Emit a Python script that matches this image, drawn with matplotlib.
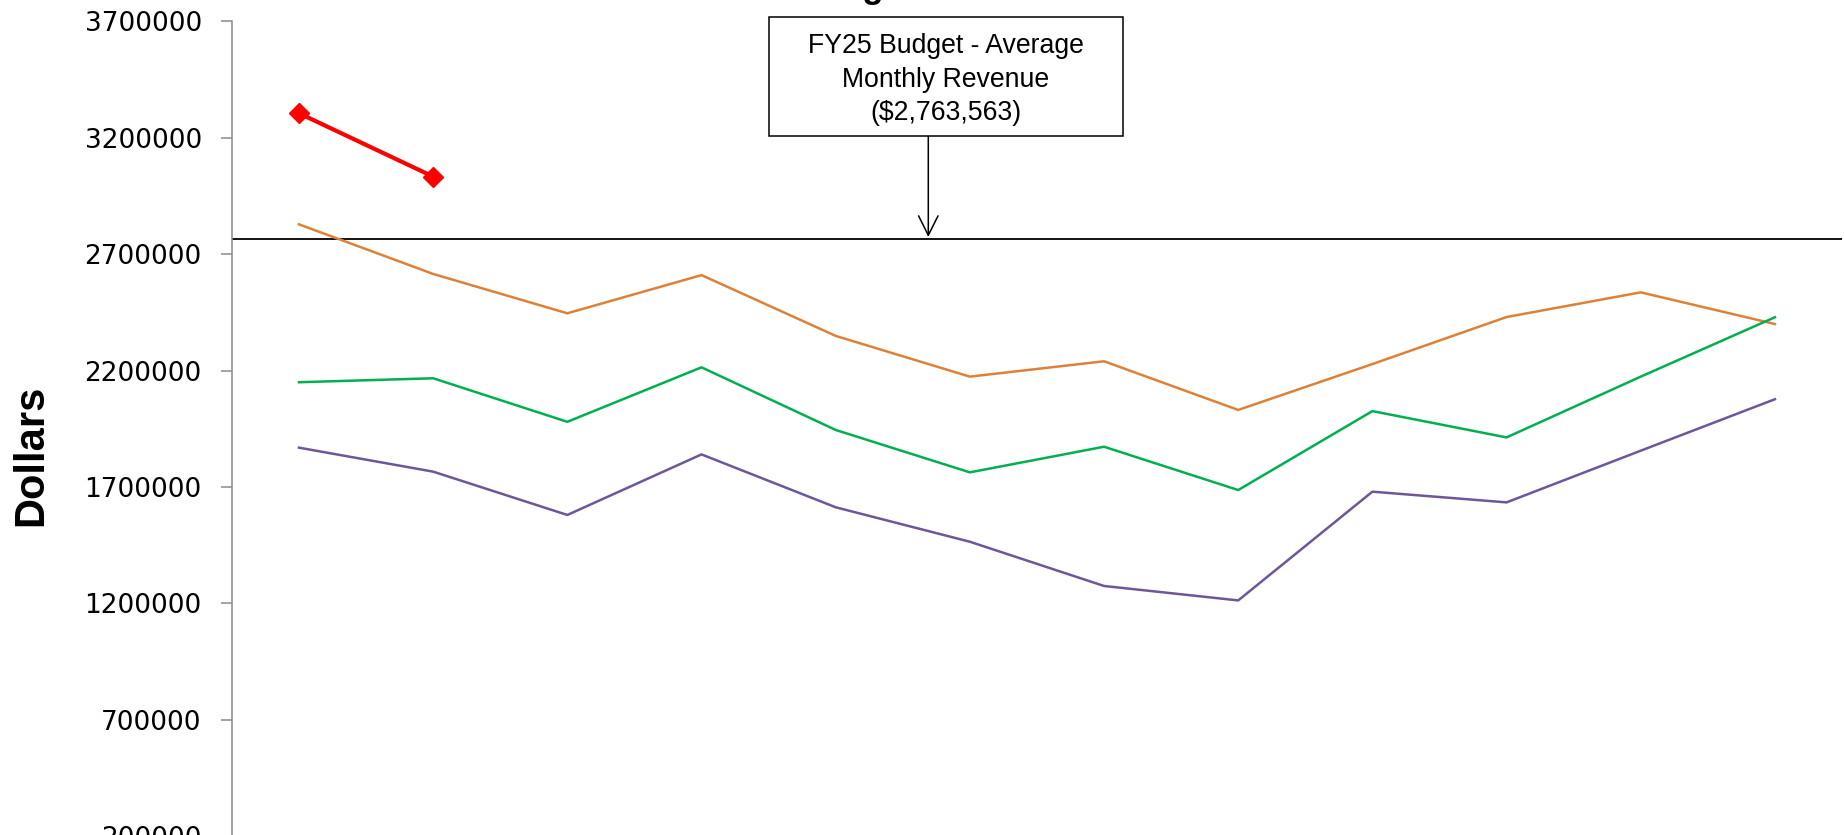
import matplotlib
matplotlib.use("Agg")
import matplotlib.pyplot as plt
from matplotlib.patches import Rectangle

# ---- data ----
months = ["Jul", "Aug", "Sep", "Oct", "Nov", "Dec", "Jan", "Feb", "Mar", "Apr", "May", "Jun"]
fy25_actual = [3305000, 3033000]
series_orange = [2828000, 2615000, 2446000, 2610000, 2349000, 2174000,
                 2240000, 2031000, 2228000, 2430000, 2536000, 2400000]
series_green = [2150000, 2167000, 1980000, 2214000, 1945000, 1763000,
                1873000, 1687000, 2026000, 1913000, 2174000, 2429000]
series_purple = [1869000, 1766000, 1580000, 1840000, 1613000, 1465000,
                 1275000, 1213000, 1680000, 1634000, 1856000, 2077000]
budget_avg = 2763563
y_ticks = [200000, 700000, 1200000, 1700000, 2200000, 2700000, 3200000, 3700000]
budget_label = "FY25 Budget - Average\nMonthly Revenue\n($2,763,563)"
title_text = "Budget vs. Actual"
y_label = "Dollars"

W, H = 1844, 835
fig = plt.figure(figsize=(W / 100, H / 100), dpi=100)
fig.patch.set_facecolor("white")

def fx(px):
    return px / W

def fy(py):
    return 1 - py / H

left, right, top, bottom = 231.9, 1842.0, 21.3, 836.3
ax = fig.add_axes([fx(left), fy(bottom), fx(right - left), (bottom - top) / H])

x = list(range(len(months)))
ax.plot(x, series_orange, color="#DE8138", lw=1.8, zorder=3)
ax.plot(x, series_green, color="#00B050", lw=1.8, zorder=3)
ax.plot(x, series_purple, color="#6D5799", lw=1.8, zorder=3)
ax.plot(x[:len(fy25_actual)], fy25_actual, color="#FF0000", lw=3.0,
        marker="D", markersize=10, zorder=4)
ax.axhline(budget_avg, color="black", lw=1.3, zorder=2)

ax.set_xlim(-0.5, len(months) - 0.5)
ax.set_ylim(y_ticks[0], y_ticks[-1])
ax.set_yticks(y_ticks)
ax.set_yticklabels([str(v) for v in y_ticks])
ax.set_xticks([])

for s in ["top", "right", "bottom"]:
    ax.spines[s].set_visible(False)
ax.spines["left"].set_color("#8C8C8C")
ax.spines["left"].set_linewidth(1.1)
ax.tick_params(axis="y", direction="out", length=7.7, width=1.1, color="#8C8C8C",
               pad=14, labelsize=19, labelcolor="black")
for lab in ax.get_yticklabels():
    lab.set_family("DejaVu Sans")

# y label
ax.set_ylabel(y_label, fontsize=30, fontweight="bold",
              family=["Liberation Sans Narrow", "Liberation Sans", "DejaVu Sans"])
ax.yaxis.label.set_rotation_mode("default")
ax.yaxis.label.set_va("center")
ax.yaxis.label.set_ha("center")
ax.yaxis.set_label_coords((31 - left) / (right - left), (bottom - 455) / (bottom - top))

# title (mostly cropped off at the top)
fig.text(fx(795), fy(-2), title_text, fontsize=25, fontweight="bold",
         family=["Liberation Sans Narrow", "Liberation Sans", "DejaVu Sans"],
         ha="left", va="baseline")

# annotation box
bx0, bx1, by0, by1 = 769.3, 1122.7, 17.3, 136.0
fig.patches.append(Rectangle((fx(bx0), fy(by1)), fx(bx1 - bx0), (by1 - by0) / H,
                             transform=fig.transFigure, facecolor="white",
                             edgecolor="black", lw=1.1, zorder=5))
fig.text(fx((bx0 + bx1) / 2), fy((by0 + by1) / 2 + 3), budget_label,
         fontsize=19.2, family=["Liberation Sans", "DejaVu Sans"],
         ha="center", va="center", linespacing=1.38, zorder=6)

# arrow
ax.annotate("", xy=(fx(928.3), fy(237)), xycoords="figure fraction",
            xytext=(fx(928.3), fy(136)), textcoords="figure fraction",
            arrowprops=dict(arrowstyle="->,head_length=0.7,head_width=0.35",
                            color="black", lw=1.1, mutation_scale=20,
                            shrinkA=0, shrinkB=0))

fig.savefig("out.png", dpi=100)
